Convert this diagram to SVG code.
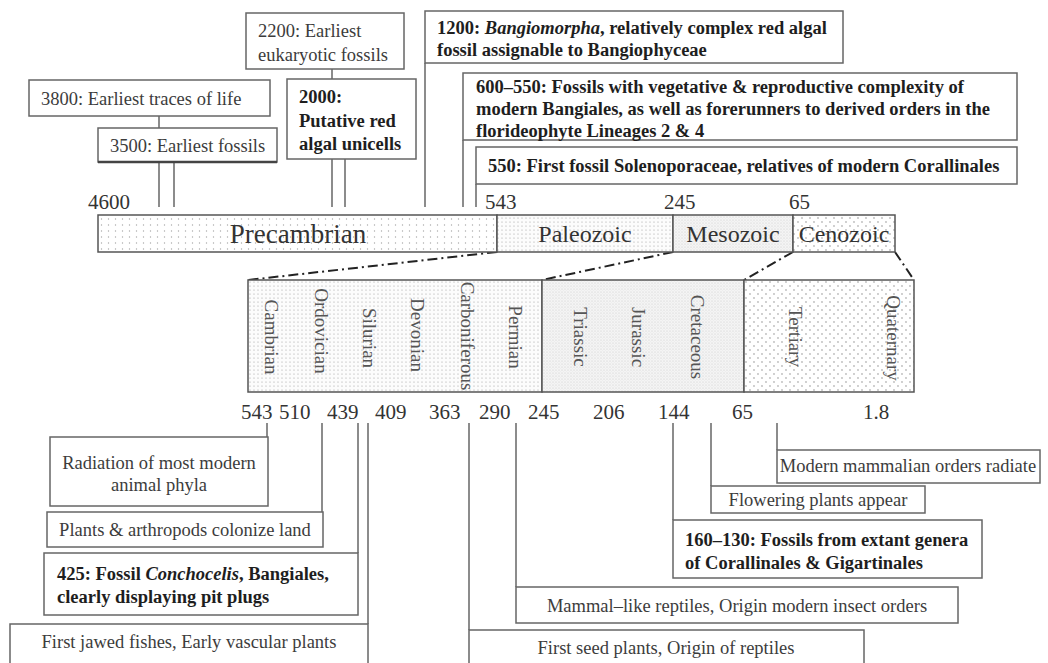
<svg xmlns="http://www.w3.org/2000/svg" width="1048" height="663" viewBox="0 0 1048 663">
<defs>
<pattern id="pPre" width="7" height="6" patternUnits="userSpaceOnUse"><rect width="7" height="6" fill="#fff"/><circle cx="3.5" cy="3" r="0.7" fill="#aaa"/></pattern>
<pattern id="pPal" width="4" height="4" patternUnits="userSpaceOnUse"><rect width="4" height="4" fill="#fcfcfc"/><circle cx="2" cy="2" r="0.6" fill="#a0a0a0"/></pattern>
<pattern id="pMes" width="3" height="3" patternUnits="userSpaceOnUse"><rect width="3" height="3" fill="#f4f4f4"/><circle cx="1" cy="1" r="0.5" fill="#c4c4c4"/><circle cx="2.5" cy="2.5" r="0.35" fill="#d8d8d8"/></pattern>
<pattern id="pCen" width="8" height="8" patternUnits="userSpaceOnUse"><rect width="8" height="8" fill="#fff"/><circle cx="2" cy="2" r="0.9" fill="#bbb"/><circle cx="6" cy="6" r="0.9" fill="#bbb"/></pattern>
</defs>
<style>
.box{fill:#fff;stroke:#666;stroke-width:1.5}
.t{font-family:"Liberation Serif",serif;font-size:18.5px;fill:#3c3c3c}
.b{font-weight:bold;fill:#1e1e1e}
.c{text-anchor:middle}
.ln{stroke:#666;stroke-width:1.5;fill:none}
.dd{stroke:#222;stroke-width:2;stroke-dasharray:10 4 2 4;fill:none}
.num{font-size:21px;fill:#333}
.era{stroke:#555;stroke-width:1.5}
.eraT{font-size:24px;fill:#333;text-anchor:middle}
.per{font-size:19px;fill:#555;text-anchor:middle;dominant-baseline:central}
</style>
<rect width="1048" height="663" fill="#fff"/>

<g id="connectors">
<line class="ln" x1="159" y1="116" x2="159" y2="207"/>
<line class="ln" x1="174" y1="162" x2="174" y2="207"/>
<line class="ln" x1="332" y1="69" x2="332" y2="207"/>
<line class="ln" x1="345" y1="159" x2="345" y2="207"/>
<line class="ln" x1="425" y1="63" x2="425" y2="207"/>
<line class="ln" x1="463" y1="140" x2="463" y2="207"/>
<line class="ln" x1="476" y1="184" x2="476" y2="207"/>
<line class="dd" x1="497" y1="252" x2="248" y2="280"/>
<line class="dd" x1="673" y1="252" x2="542" y2="280"/>
<line class="dd" x1="793" y1="252" x2="744" y2="280"/>
<line class="dd" x1="895" y1="252" x2="914" y2="280"/>
<line class="ln" x1="267" y1="423" x2="267" y2="437"/>
<line class="ln" x1="322" y1="423" x2="322" y2="512"/>
<line class="ln" x1="358" y1="423" x2="358" y2="553"/>
<line class="ln" x1="368" y1="423" x2="368" y2="624"/>
<line class="ln" x1="469" y1="423" x2="469" y2="630"/>
<line class="ln" x1="516" y1="423" x2="516" y2="587"/>
<line class="ln" x1="673" y1="423" x2="673" y2="520"/>
<line class="ln" x1="711" y1="423" x2="711" y2="486"/>
<line class="ln" x1="777" y1="423" x2="777" y2="450"/>
</g>

<g id="n2200"><rect class="box" x="246" y="13" width="158" height="56"/>
<text class="t" x="258" y="37">2200: Earliest</text><text class="t" x="258" y="61">eukaryotic fossils</text></g>
<g id="n2000"><rect class="box" x="287" y="79" width="129" height="80"/>
<text class="t b" x="299" y="103">2000:</text><text class="t b" x="299" y="127">Putative red</text><text class="t b" x="299" y="150">algal unicells</text></g>
<g id="n3800"><rect class="box" x="29" y="80" width="241" height="36"/>
<text class="t" x="41" y="105">3800: Earliest traces of life</text></g>
<g id="n3500"><rect class="box" x="98" y="128" width="179" height="34"/>
<line x1="98" y1="162" x2="277" y2="162" stroke="#444" stroke-width="2.5"/>
<text class="t" x="110" y="152">3500: Earliest fossils</text></g>
<g id="n1200"><rect class="box" x="425" y="11" width="418" height="52"/>
<text class="t b" x="437" y="34">1200: <tspan font-style="italic">Bangiomorpha</tspan>, relatively complex red algal</text>
<text class="t b" x="437" y="56">fossil assignable to Bangiophyceae</text></g>
<g id="n600"><rect class="box" x="463" y="73" width="554" height="67"/>
<text class="t b" x="476" y="93">600–550: Fossils with vegetative &amp; reproductive complexity of</text>
<text class="t b" x="476" y="115">modern Bangiales, as well as forerunners to derived orders in the</text>
<text class="t b" x="476" y="137">florideophyte Lineages 2 &amp; 4</text></g>
<g id="n550"><rect class="box" x="476" y="147" width="541" height="37"/>
<text class="t b" x="488" y="172">550: First fossil Solenoporaceae, relatives of modern Corallinales</text></g>

<g id="eras">
<rect class="era" x="98" y="215" width="399" height="37" fill="url(#pPre)"/>
<rect class="era" x="497" y="215" width="176" height="37" fill="url(#pPal)"/>
<rect class="era" x="673" y="215" width="120" height="37" fill="url(#pMes)"/>
<rect class="era" x="793" y="215" width="102" height="37" fill="url(#pCen)"/>
<text class="t" x="298" y="243" style="font-size:27px;fill:#333;text-anchor:middle">Precambrian</text>
<text class="t eraT" x="585" y="242">Paleozoic</text>
<text class="t eraT" x="733" y="242">Mesozoic</text>
<text class="t eraT" x="844" y="242">Cenozoic</text>
<text class="t num" x="88" y="209">4600</text>
<text class="t num" x="485" y="209">543</text>
<text class="t num" x="664" y="209">245</text>
<text class="t num" x="789" y="209">65</text>
</g>

<g id="periods">
<rect class="era" x="248" y="280" width="294" height="112" fill="url(#pPal)"/>
<rect class="era" x="542" y="280" width="202" height="112" fill="url(#pMes)"/>
<rect class="era" x="744" y="280" width="170" height="112" fill="url(#pCen)"/>
<text class="t per" transform="translate(271,337) rotate(90)">Cambrian</text>
<text class="t per" transform="translate(321,331) rotate(90)">Ordovician</text>
<text class="t per" transform="translate(369,338) rotate(90)">Silurian</text>
<text class="t per" transform="translate(417,335) rotate(90)">Devonian</text>
<text class="t per" transform="translate(467,336) rotate(90)">Carboniferous</text>
<text class="t per" transform="translate(515,337) rotate(90)">Permian</text>
<text class="t per" transform="translate(580,337) rotate(90)">Triassic</text>
<text class="t per" transform="translate(638,337) rotate(90)">Jurassic</text>
<text class="t per" transform="translate(697,337) rotate(90)">Cretaceous</text>
<text class="t per" transform="translate(795,337) rotate(90)">Tertiary</text>
<text class="t per" transform="translate(893,338) rotate(90)">Quaternary</text>
<text class="t num" x="241" y="419">543</text>
<text class="t num" x="279" y="419">510</text>
<text class="t num" x="327" y="419">439</text>
<text class="t num" x="375" y="419">409</text>
<text class="t num" x="429" y="419">363</text>
<text class="t num" x="479" y="419">290</text>
<text class="t num" x="528" y="419">245</text>
<text class="t num" x="593" y="419">206</text>
<text class="t num" x="658" y="419">144</text>
<text class="t num" x="732" y="419">65</text>
<text class="t num" x="863" y="419">1.8</text>
</g>

<g id="nRadiation"><rect class="box" x="50" y="437" width="218" height="69"/>
<text class="t c" x="159" y="469">Radiation of most modern</text><text class="t c" x="159" y="491">animal phyla</text></g>
<g id="nPlants"><rect class="box" x="47" y="512" width="276" height="35"/>
<text class="t c" x="185" y="536">Plants &amp; arthropods colonize land</text></g>
<g id="n425"><rect class="box" x="44" y="553" width="314" height="62"/>
<text class="t b" x="57" y="580">425: Fossil <tspan font-style="italic">Conchocelis</tspan>, Bangiales,</text>
<text class="t b" x="57" y="603">clearly displaying pit plugs</text></g>
<g id="nJawed"><rect class="box" x="10" y="624" width="358" height="50"/>
<text class="t c" x="189" y="648">First jawed fishes, Early vascular plants</text></g>
<g id="nModern"><rect class="box" x="777" y="450" width="263" height="33"/>
<text class="t c" x="908" y="472">Modern mammalian orders radiate</text></g>
<g id="nFlowering"><rect class="box" x="711" y="486" width="214" height="27"/>
<text class="t c" x="818" y="506">Flowering plants appear</text></g>
<g id="n160"><rect class="box" x="673" y="520" width="309" height="58"/>
<text class="t b" x="685" y="546">160–130: Fossils from extant genera</text>
<text class="t b" x="685" y="569">of Corallinales &amp; Gigartinales</text></g>
<g id="nMammal"><rect class="box" x="516" y="587" width="442" height="36"/>
<text class="t c" x="737" y="612">Mammal–like reptiles, Origin modern insect orders</text></g>
<g id="nSeed"><rect class="box" x="469" y="630" width="395" height="45"/>
<text class="t c" x="666" y="654">First seed plants, Origin of reptiles</text></g>
</svg>
